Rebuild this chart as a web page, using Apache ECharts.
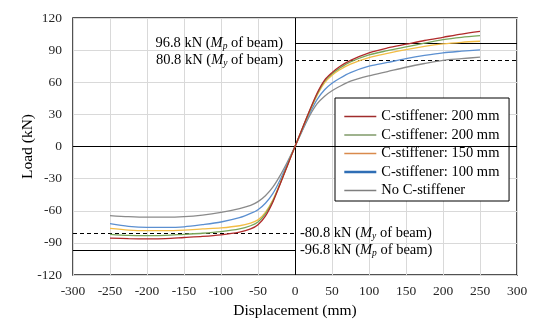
<!DOCTYPE html>
<html>
<head>
<meta charset="utf-8">
<script src="https://cdn.jsdelivr.net/npm/echarts@6/dist/echarts.min.js"></script>
<style>html,body{margin:0;padding:0;background:#fff}#c{width:542px;height:325px}</style>
</head>
<body>
<div id="c"></div>
<script>
var displacement = [-250,-225,-200,-175,-150,-125,-100,-75,-60,-50,-40,-30,-20,-10,0,10,20,30,40,50,60,75,100,125,150,175,200,225,250];
var red200  = [-85.5,-86,-86.2,-86,-85,-84,-82.5,-80,-77,-73,-65,-52,-35,-17.5,0,17,34,50,62,69,74.5,80.5,87.5,92,95.5,99,102,105,107.5];
var green200= [-82,-83,-83.2,-83,-82,-81,-79.5,-77,-74,-70.5,-63,-51,-34.5,-17,0,17,33.5,49,61,68,73,79,85.5,89.5,93,96.5,99.8,102,103.5];
var gold150 = [-76.5,-78,-78.5,-78.5,-78,-77,-76,-74,-71.5,-68.5,-61.5,-50,-34,-17,0,16.5,33,48,59.5,66.5,71.5,77,83,87,90.5,93.5,95.8,97.3,98.3];
var blue100 = [-72,-74.5,-75.5,-75.5,-75,-73,-70.5,-66.5,-62.5,-59,-53,-44,-31,-15.5,0,15.5,31,44,53,59,63.5,69,75,78.5,82,85,87.5,89,90.3];
var noStiff = [-64.5,-65.5,-66,-66,-65.5,-64,-61.5,-58,-55,-51.5,-46,-38,-27,-14,0,15,29,40,47,52,56,61,66,70,74,77.5,80.5,82,83.5];
var seriesNames = ['C-stiffener: 200 mm','C-stiffener: 200 mm ','C-stiffener: 150 mm','C-stiffener: 100 mm','No C-stiffener'];
var xTicks = [-300,-250,-200,-150,-100,-50,0,50,100,150,200,250,300];
var yTicks = [-120,-90,-60,-30,0,30,60,90,120];
var Mp = 96.8, My = 80.8;

var FONT = "'Liberation Serif','Times New Roman',serif";
var colors = ['#b02a2a','#78a65a','#f3bd45','#5b8fd0','#8a8a8a'];
var legendColors = ['#a02c2c','#7f9a68','#d98a4c','#2f6eb5','#7f7f7f'];
var datasets = [red200, green200, gold150, blue100, noStiff];

function pairs(arr){ return displacement.map(function(x,i){ return [x, arr[i]]; }); }

var rich = {
  a: {fontFamily: FONT, fontSize: 14.5, color: '#000'},
  i: {fontFamily: FONT, fontSize: 14.5, color: '#000', fontStyle: 'italic'},
  s: {fontFamily: FONT, fontSize: 9.5, color: '#000', fontStyle: 'italic', padding: [7,0,0,0]}
};
function lbl(val, sym){ return '{a|' + val + ' kN (}{i|M}{s|' + sym + '}{a| of beam)}'; }

var series = datasets.map(function(d, k){
  return {
    type: 'line', name: seriesNames[k], data: pairs(d),
    smooth: 0.3, symbol: 'none', showSymbol: false,
    lineStyle: {color: colors[k], width: 1.3}, itemStyle: {color: colors[k]},
    z: 10 - k, animation: false
  };
});

series.push({
  type: 'line', data: [], silent: true, animation: false,
  markLine: {
    silent: true, symbol: ['none','none'], animation: false,
    data: [
      [{coord: [0, -120], lineStyle: {color: '#000', width: 1, type: 'solid'}, label: {show: false}}, {coord: [0, 120]}],
      [{coord: [-300, 0], lineStyle: {color: '#000', width: 1, type: 'solid'}, label: {show: false}}, {coord: [300, 0]}],
      [{coord: [0, Mp], lineStyle: {color: '#000', width: 1.2, type: 'solid'},
        label: {show: true, position: 'start', distance: 12, formatter: lbl('96.8','p'), rich: rich}}, {coord: [300, Mp]}],
      [{coord: [0, My], lineStyle: {color: '#000', width: 1.2, type: [4,3]},
        label: {show: true, position: 'start', distance: 12, formatter: lbl('80.8','y'), rich: rich}}, {coord: [300, My]}],
      [{coord: [-300, -My], lineStyle: {color: '#000', width: 1.2, type: [4,3]},
        label: {show: true, position: 'end', distance: 5, formatter: lbl('-80.8','y'), rich: rich}}, {coord: [0, -My]}],
      [{coord: [-300, -Mp], lineStyle: {color: '#000', width: 1.2, type: 'solid'},
        label: {show: true, position: 'end', distance: 5, formatter: lbl('-96.8','p'), rich: rich}}, {coord: [0, -Mp]}]
    ]
  }
});

var chart = echarts.init(document.getElementById('c'), null, {renderer: 'canvas'});
chart.setOption({
  animation: false,
  backgroundColor: '#fff',
  grid: {left: 73, right: 25, top: 18, bottom: 50, show: true, borderColor: '#1a1a1a', borderWidth: 1.5, backgroundColor: 'transparent'},
  xAxis: {
    type: 'value', min: xTicks[0], max: xTicks[xTicks.length-1], interval: 50,
    name: 'Displacement (mm)', nameLocation: 'middle', nameGap: 26,
    nameTextStyle: {fontFamily: FONT, fontSize: 15.5, color: '#000'},
    axisLine: {show: false}, axisTick: {show: false},
    axisLabel: {fontFamily: FONT, fontSize: 13.5, color: '#262626', margin: 9},
    splitLine: {show: true, lineStyle: {color: '#d9d9d9', width: 1}}
  },
  yAxis: {
    type: 'value', min: yTicks[0], max: yTicks[yTicks.length-1], interval: 30,
    name: 'Load (kN)', nameLocation: 'middle', nameGap: 37, nameRotate: 90, nameMoveOverlap: false,
    nameTextStyle: {fontFamily: FONT, fontSize: 15.5, color: '#000'},
    axisLine: {show: false}, axisTick: {show: false},
    axisLabel: {fontFamily: FONT, fontSize: 13.5, color: '#262626', margin: 11},
    splitLine: {show: true, lineStyle: {color: '#d9d9d9', width: 1}}
  },
  legend: {
    show: true,
    orient: 'vertical', left: 335, top: 98,
    padding: [11, 6, 3, 8],
    backgroundColor: '#fff', borderColor: '#000', borderWidth: 1,
    itemWidth: 32, itemHeight: 15, itemGap: 3.5,
    itemStyle: {opacity: 0},
    textStyle: {fontFamily: FONT, fontSize: 14.5, lineHeight: 15, color: '#000'},
    data: seriesNames.map(function(n, k){
      return {name: n, lineStyle: {color: legendColors[k], width: k === 3 ? 2.6 : 1.5, opacity: 1}};
    })
  },
  series: series
});
</script>
</body>
</html>
